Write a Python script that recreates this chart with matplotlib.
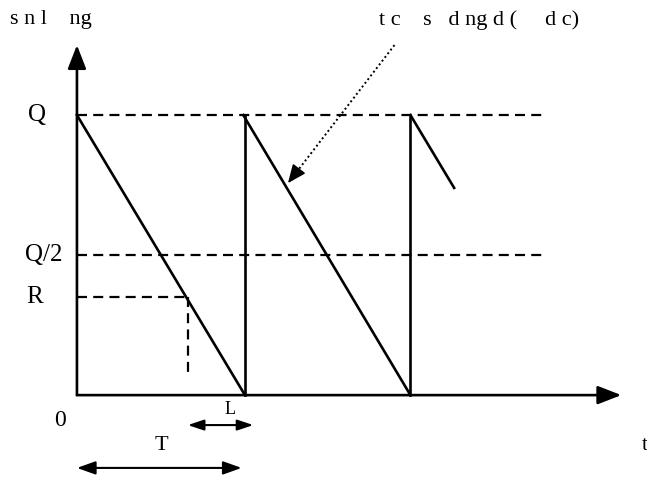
import matplotlib
matplotlib.use('Agg')
import matplotlib.pyplot as plt

plt.rcParams['font.family'] = ['Liberation Serif', 'DejaVu Serif']
plt.rcParams['font.size'] = 16

# inventory model (units: cycle length T = 1, order quantity Q = 1)
Q = 1.0
R = 0.35
cycle_starts = [0.0, 0.99]
cycle_len = [1.0, 0.995]
partial_start = 1.985
partial_len = 0.26
ref_end = 2.77
reorder_t = 0.66

fig = plt.figure(figsize=(6.47, 4.78), dpi=100)
ax = fig.add_axes([0, 0, 1, 1])
ax.set_xlim(-0.458, 3.393)
ax.set_ylim(-0.296, 1.411)
ax.axis('off')

lw = 1.9
dash = (0, (4.5, 2.8))
# saw-tooth
for s, n in zip(cycle_starts, cycle_len):
    ax.plot([s, s + n], [Q, 0], color='black', lw=lw)
    ax.plot([s + n, s + n], [0, Q], color='black', lw=lw)
ax.plot([partial_start, partial_start + partial_len], [Q, Q - partial_len], color='black', lw=lw)

# reference dashed lines
ax.plot([0, ref_end], [Q, Q], color='black', lw=1.6, ls=dash)
ax.plot([0, ref_end], [Q / 2, Q / 2], color='black', lw=1.6, ls=dash)
ax.plot([0, reorder_t], [R, R], color='black', lw=1.6, ls=dash)
ax.plot([reorder_t, reorder_t], [R, 0.06], color='black', lw=1.6, ls=dash)

# axes arrows
ax.annotate('', xy=(3.24, 0), xytext=(0, 0),
            arrowprops=dict(arrowstyle='-|>,head_length=0.9,head_width=0.35', color='black', lw=lw, shrinkA=0, shrinkB=0))
ax.annotate('', xy=(0, 1.25), xytext=(0, 0),
            arrowprops=dict(arrowstyle='-|>,head_length=0.9,head_width=0.35', color='black', lw=lw, shrinkA=0, shrinkB=0))

# L and T arrows
ax.annotate('', xy=(1.05, -0.107), xytext=(0.66, -0.107),
            arrowprops=dict(arrowstyle='<|-|>,head_length=0.6,head_width=0.2', color='black', lw=1.5, shrinkA=0, shrinkB=0))
ax.annotate('', xy=(0.98, -0.26), xytext=(0.0, -0.26),
            arrowprops=dict(arrowstyle='<|-|>,head_length=0.7,head_width=0.25', color='black', lw=1.5, shrinkA=0, shrinkB=0))

# dotted pointer with a solid head
p0 = (1.89, 1.25)
p1 = (1.256, 0.757)
ax.plot([p0[0], p1[0] + 0.03], [p0[1], p1[1] + 0.023], color='black', lw=1.4, ls=(0, (1, 1.4)))
ax.annotate('', xy=p1, xytext=(p1[0] + 0.06, p1[1] + 0.047),
            arrowprops=dict(arrowstyle='-|>,head_length=0.7,head_width=0.3', color='black', lw=1.2,
                            shrinkA=0, shrinkB=0))

# labels
ax.text(-0.24, Q, 'Q', ha='center', va='center', fontsize=18)
ax.text(-0.20, Q / 2, 'Q/2', ha='center', va='center', fontsize=18)
ax.text(-0.25, R, 'R', ha='center', va='center', fontsize=18)
ax.text(-0.10, -0.09, '0', ha='center', va='center', fontsize=17)
ax.text(3.38, -0.18, 't', ha='center', va='center')
ax.text(0.91, -0.05, 'L', ha='center', va='center', fontsize=13)
ax.text(0.50, -0.18, 'T', ha='center', va='center')
ax.text(-0.40, 1.34, 's n l    ng', ha='left', va='center')
ax.text(1.80, 1.34, 't c    s   d ng d (     d c)', ha='left', va='center')

fig.savefig('out.png', dpi=100)
